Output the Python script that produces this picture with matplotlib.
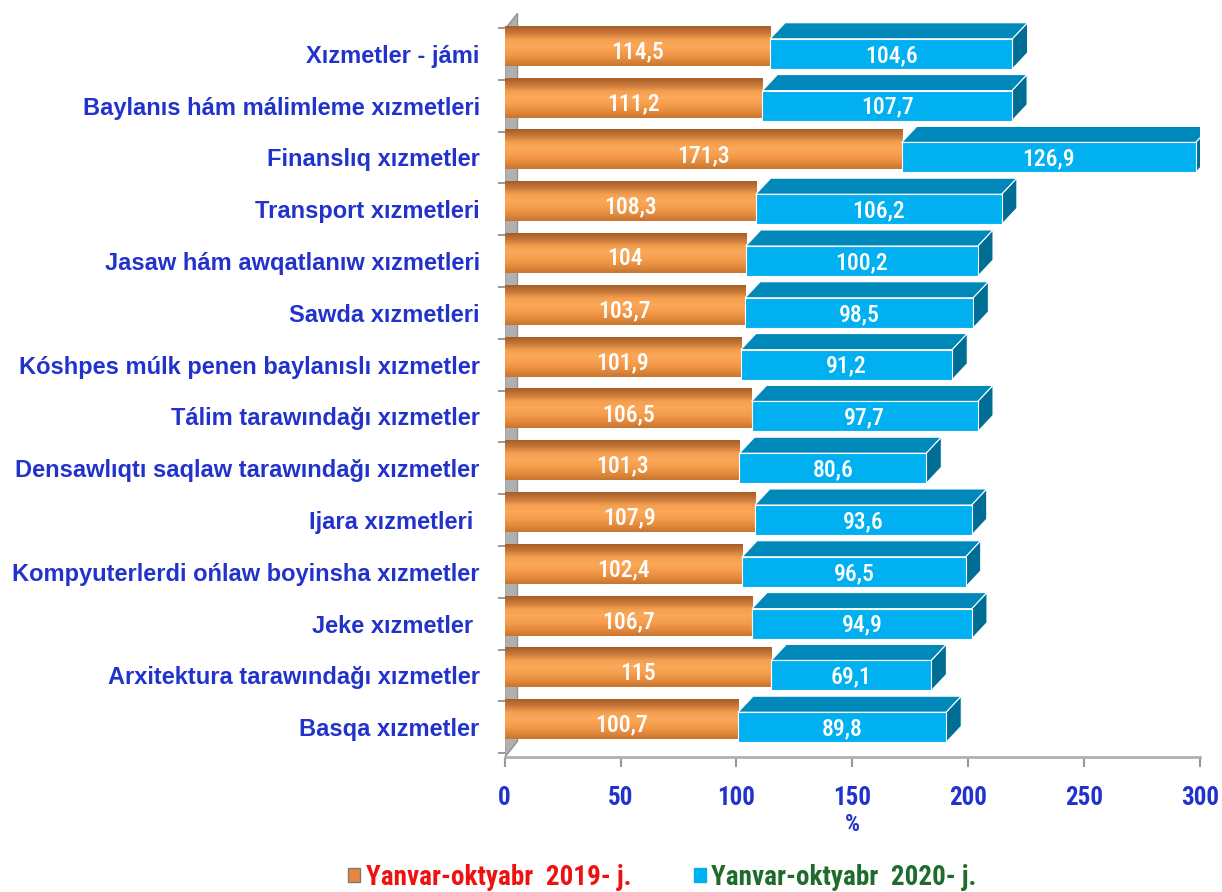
"""
Growth of paid services by type, Jan-Oct 2019 vs Jan-Oct 2020 (%)
"""

import matplotlib.pyplot as plt
import matplotlib.colors as mcolors
from matplotlib.patches import Polygon, Patch
import numpy as np

#---------------------------------------------------------------------------------------------------
# Data
#---------------------------------------------------------------------------------------------------

categories = ['Xızmetler - jámi',
              'Baylanıs hám málimleme xızmetleri',
              'Finanslıq xızmetler',
              'Transport xızmetleri',
              'Jasaw hám awqatlanıw xızmetleri',
              'Sawda xızmetleri',
              'Kóshpes múlk penen baylanıslı xızmetler',
              'Tálim tarawındağı xızmetler',
              'Densawlıqtı saqlaw tarawındağı xızmetler',
              'Ijara xızmetleri ',
              'Kompyuterlerdi ońlaw boyinsha xızmetler',
              'Jeke xızmetler ',
              'Arxitektura tarawındağı xızmetler',
              'Basqa xızmetler']

vals_2019 = [114.5, 111.2, 171.3, 108.3, 104, 103.7, 101.9, 106.5, 101.3, 107.9, 102.4, 106.7, 115, 100.7]
vals_2020 = [104.6, 107.7, 126.9, 106.2, 100.2, 98.5, 91.2, 97.7, 80.6, 93.6, 96.5, 94.9, 69.1, 89.8]

labels_2019 = ['114,5', '111,2', '171,3', '108,3', '104', '103,7', '101,9', '106,5', '101,3', '107,9',
               '102,4', '106,7', '115', '100,7']
labels_2020 = ['104,6', '107,7', '126,9', '106,2', '100,2', '98,5', '91,2', '97,7', '80,6', '93,6',
               '96,5', '94,9', '69,1', '89,8']

legend_labels = ['Yanvar-oktyabr  2019- j.', 'Yanvar-oktyabr  2020- j.']
xticks = [0, 50, 100, 150, 200, 250, 300]

#---------------------------------------------------------------------------------------------------
# Styling
#---------------------------------------------------------------------------------------------------

narrow = ['Roboto Condensed', 'PT Sans Narrow', 'Liberation Sans', 'DejaVu Sans']
wide = ['Liberation Sans', 'DejaVu Sans']
plt.rcParams['font.family'] = narrow

label_blue = '#2233cc'
blue_front = '#00b0f0'
blue_top = '#0088ba'
blue_side = '#006e94'
orange_cmap = mcolors.LinearSegmentedColormap.from_list(
    'orng', ['#a85e26', '#c9783a', '#f4a050', '#fba85a', '#f59d4d', '#e48b3d', '#c87530'])

bar_h = 0.58
dx = 6.5
dy = 0.31
y_floor = 13.58

fig = plt.figure(figsize=(12.22, 8.92), dpi=100)
ax = fig.add_axes([0.413, 0.151, 0.569, 0.838])

ypos = np.arange(len(categories))

# back wall on the left
wall = Polygon([(0, y_floor), (0, -0.47), (dx * 0.85, -0.47 - dy), (dx * 0.85, y_floor - dy)],
               closed=True, fc='#b0b0b0', ec='#909090', lw=1.0, zorder=1)
ax.add_patch(wall)

grad = np.linspace(0, 1, 64).reshape(-1, 1)
for i, (a, b) in enumerate(zip(vals_2019, vals_2020)):
    yc = ypos[i]
    top = yc - bar_h / 2
    bot = yc + bar_h / 2

    # orange (cylinder-like gradient)
    ax.imshow(grad, extent=[0, a, bot - 0.06, top - 0.25], origin='upper', aspect='auto',
              cmap=orange_cmap, zorder=2, interpolation='bilinear')

    # blue 3D box
    ax.add_patch(Polygon([(a, top), (a + b, top), (a + b + dx, top - dy), (a + dx, top - dy)],
                         closed=True, fc=blue_top, ec='white', lw=0.8, zorder=3))
    ax.add_patch(Polygon([(a + b, top), (a + b + dx, top - dy), (a + b + dx, bot - dy), (a + b, bot)],
                         closed=True, fc=blue_side, ec='white', lw=0.8, zorder=3))
    ax.add_patch(Polygon([(a, top), (a + b, top), (a + b, bot), (a, bot)],
                         closed=True, fc=blue_front, ec='white', lw=0.8, zorder=4))

    ax.text(a / 2, yc - 0.04, labels_2019[i], color='white', ha='center', va='center',
            fontsize=17, weight='medium', zorder=5)
    ax.text(a + b / 2, yc + 0.03, labels_2020[i], color='white', ha='center', va='center',
            fontsize=17, weight='medium', zorder=5)

ax.set_xlim(0, 300)
ax.set_ylim(y_floor, -0.85)

ax.set_yticks(ypos)
ax.set_yticklabels(categories, family=wide, fontsize=17, weight='bold', color=label_blue)
ax.tick_params(axis='y', which='major', length=0, pad=18)
ax.set_yticks(np.arange(-0.5, 14, 1.0), minor=True)
ax.tick_params(axis='y', which='minor', length=5, color='#888888', width=1.2)

ax.set_xticks(xticks)
ax.set_xticklabels([str(x) for x in xticks], fontsize=18, weight='bold', color=label_blue)
ax.tick_params(axis='x', length=7, color='#999999', width=1.5, pad=14)
ax.set_xlabel('%', fontsize=17, weight='bold', color=label_blue, labelpad=2)

for s in ['top', 'right', 'left']:
    ax.spines[s].set_visible(False)
ax.spines['bottom'].set_color('#b0b0b0')
ax.spines['bottom'].set_linewidth(2)

handles = [Patch(fc='#e8873a', ec='#7a7a7a'), Patch(fc=blue_front, ec=blue_front)]
leg = fig.legend(handles, legend_labels, loc='lower center', ncol=2, frameon=False,
                 bbox_to_anchor=(0.542, -0.026), fontsize=19.5, handlelength=0.45, handleheight=0.45,
                 handletextpad=0.2, columnspacing=2.3)
leg.get_texts()[0].set_color('#ee1111')
leg.get_texts()[1].set_color('#1e6b2c')
for t in leg.get_texts():
    t.set_weight('bold')

plt.savefig('out.png', dpi=100)
plt.close()
